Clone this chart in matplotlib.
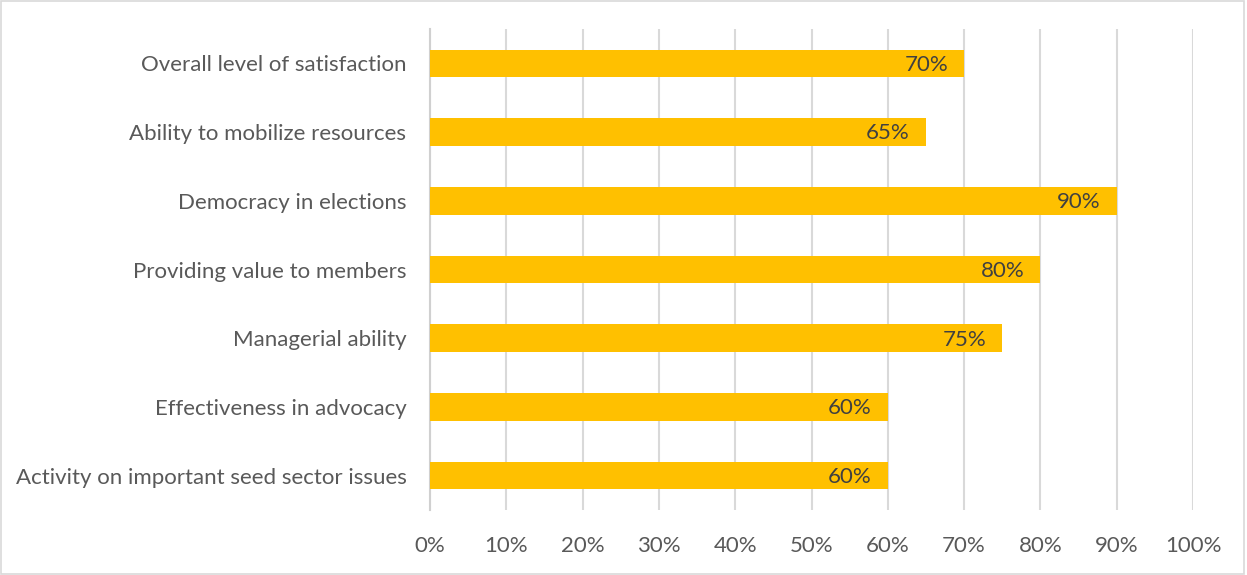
import matplotlib.pyplot as plt
from matplotlib.patches import Rectangle

categories = [
    "Overall level of satisfaction",
    "Ability to mobilize resources",
    "Democracy in elections",
    "Providing value to members",
    "Managerial ability",
    "Effectiveness in advocacy",
    "Activity on important seed sector issues",
]
values = [70, 65, 90, 80, 75, 60, 60]
xticks = [0, 10, 20, 30, 40, 50, 60, 70, 80, 90, 100]

plt.rcParams["font.family"] = ["Lato", "DejaVu Sans"]

fig = plt.figure(figsize=(12.47, 5.75), dpi=100)
ax = fig.add_axes([430 / 1247, 65 / 575, (1193 - 430) / 1247, (546 - 65) / 575])

ypos = list(range(len(categories)))[::-1]
ax.barh(ypos, values, height=0.40, color="#FFC000", zorder=3)
for y, v in zip(ypos, values):
    ax.text(v - 2.1, y - 0.02, f"{v}%", ha="right", va="center", fontsize=16, color="#404040", zorder=4)

ax.set_xlim(0, 100)
ax.set_ylim(-0.5, len(categories) - 0.5)
ax.set_yticks(ypos)
ax.set_yticklabels(categories, fontsize=16, color="#595959")
ax.set_xticks(xticks)
ax.set_xticklabels([f"{t}%" for t in xticks], fontsize=16, color="#595959")
ax.tick_params(axis="both", length=0)
ax.tick_params(axis="y", pad=17)
ax.tick_params(axis="x", pad=19)
ax.grid(True, axis="x", color="#D9D9D9", linewidth=1.5, zorder=0)
for s in ["top", "right", "bottom"]:
    ax.spines[s].set_visible(False)
ax.spines["left"].set_color("#D0D0D0")
ax.spines["left"].set_linewidth(1.5)

fig.patches.append(Rectangle((0.0005, 0.001), 0.997, 0.997, transform=fig.transFigure,
                             fill=False, edgecolor="#D9D9D9", linewidth=1.2))

fig.savefig("out.png", dpi=100)
